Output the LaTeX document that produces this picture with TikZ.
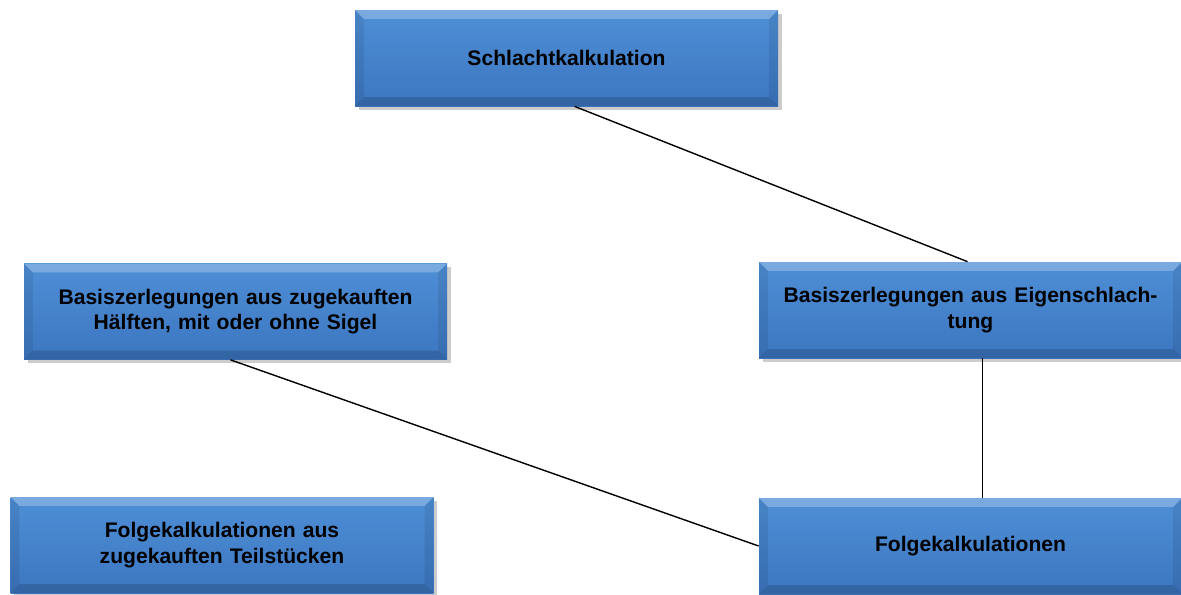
\documentclass[tikz,border=0pt]{standalone}
\usepackage{fontspec}
\setmainfont{Liberation Sans}
\usepackage{tikz}
\usetikzlibrary{positioning}
\usetikzlibrary{shadows}

\definecolor{boxtop}{RGB}{78,143,214}
\definecolor{boxbot}{RGB}{60,118,192}

\tikzset{
  calcbox/.style={rectangle, minimum width=8.46cm, minimum height=1.92cm,
    top color=boxtop, bottom color=boxbot, draw=none,
    text width=8cm, align=center, font=\bfseries\fontsize{12}{14.4}\selectfont,
    drop shadow={shadow xshift=2pt,shadow yshift=-2pt,opacity=0.4},
    path picture={
      \fill[white,opacity=0.25] (path picture bounding box.north west) -- (path picture bounding box.north east)
        -- ([xshift=-5pt,yshift=-5pt]path picture bounding box.north east) -- ([xshift=5pt,yshift=-5pt]path picture bounding box.north west) -- cycle;
      \fill[black,opacity=0.08] (path picture bounding box.north west) -- ([xshift=5pt,yshift=-5pt]path picture bounding box.north west)
        -- ([xshift=5pt,yshift=5pt]path picture bounding box.south west) -- (path picture bounding box.south west) -- cycle;
      \fill[black,opacity=0.08] (path picture bounding box.north east) -- ([xshift=-5pt,yshift=-5pt]path picture bounding box.north east)
        -- ([xshift=-5pt,yshift=5pt]path picture bounding box.south east) -- (path picture bounding box.south east) -- cycle;
      \fill[black,opacity=0.15] (path picture bounding box.south west) -- (path picture bounding box.south east)
        -- ([xshift=-5pt,yshift=5pt]path picture bounding box.south east) -- ([xshift=5pt,yshift=5pt]path picture bounding box.south west) -- cycle;
    }},
  link/.style={draw=black, line width=0.8pt}
}

\begin{document}
\begin{tikzpicture}
\useasboundingbox (0,0) rectangle (23.62,-11.88);

\node[calcbox] (schlacht) at (11.33,-1.16) {Schlachtkalkulation};
\node[calcbox] (basisL) at (4.71,-6.23) {Basiszerlegungen aus zugekauften Hälften, mit oder ohne Sigel};
\node[calcbox] (basisR) at (19.41,-6.20) {Basiszerlegungen aus Eigenschlach-\\tung};
\node[calcbox] (folgeL) at (4.44,-10.90) {Folgekalkulationen aus\\zugekauften Teilstücken};
\node[calcbox] (folgeR) at (19.41,-10.92) {Folgekalkulationen};

\draw[link] ([xshift=0.16cm]schlacht.south) -- ([xshift=-0.06cm]basisR.north);
\draw[link] ([xshift=-0.1cm]basisL.south) -- (folgeR.west);
\draw[link] ([xshift=0.24cm]basisR.south) -- ([xshift=0.24cm]folgeR.north);
\end{tikzpicture}
\end{document}
